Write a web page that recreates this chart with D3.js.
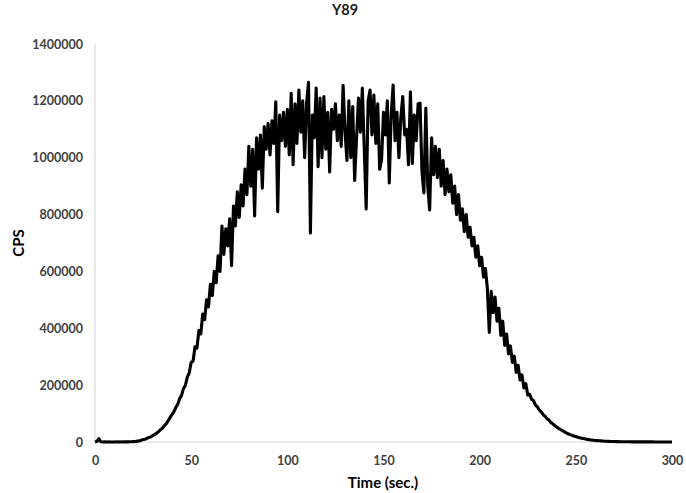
<!DOCTYPE html>
<html><head><meta charset="utf-8">
<script src="https://cdn.jsdelivr.net/npm/d3@7/dist/d3.min.js"></script>
<style>
body{margin:0;background:#fff;}
svg{display:block;}
text{font-family:Lato,"Open Sans",sans-serif;font-weight:bold;}
</style></head>
<body><svg id="chart" width="686" height="493"></svg>
<script>
const title = "Y89";
const xLabel = "Time (sec.)";
const yLabel = "CPS";
const xTicks = [0, 50, 100, 150, 200, 250, 300];
const yTicks = [0, 200000, 400000, 600000, 800000, 1000000, 1200000, 1400000];
// time in seconds, 0..300 step 1
const times = d3.range(0, 301);
const cps = [
0,2000,12000,1000,0,500,0,300,0,200,
0,300,0,400,200,500,300,600,800,700,
1200,1800,3000,3500,6000,9000,9500,13000,16000,18000,
23000,26000,31000,36000,43000,48000,57000,64000,74000,86000,
96000,106000,121000,133000,152000,164000,188000,200000,228000,243000,
280000,285000,335000,330000,392000,380000,450000,430000,500000,475000,
555000,515000,600000,560000,655000,600000,760000,660000,750000,690000,
785000,620000,830000,760000,880000,790000,905000,830000,960000,870000,
1040000,900000,1030000,795000,1070000,960000,1080000,893000,1110000,1030000,
1120000,1010000,1130000,1050000,1197000,810000,1150000,1060000,1160000,1040000,
1170000,1010000,1227000,975000,1190000,1050000,1238000,1090000,1200000,1000000,
1190000,1265000,735000,1150000,1070000,1245000,968000,1210000,1000000,1215000,
1030000,1160000,950000,1170000,1100000,1190000,1060000,1150000,1040000,1255000,
1090000,990000,1200000,1000000,1180000,920000,1070000,1210000,1090000,1245000,
1030000,820000,1200000,1238000,1080000,1220000,1050000,1190000,960000,992000,
1160000,1080000,1200000,911000,1150000,1256000,1060000,1160000,1000000,1140000,
1215000,1080000,1100000,975000,1232000,980000,1150000,1060000,1190000,1192000,
950000,876000,1175000,900000,816000,1070000,940000,1040000,930000,1030000,
900000,990000,870000,960000,880000,940000,840000,900000,800000,870000,
780000,820000,740000,800000,720000,755000,690000,720000,650000,690000,
620000,650000,580000,610000,540000,385000,530000,455000,510000,425000,
470000,375000,425000,340000,380000,310000,338000,280000,302000,245000,
270000,218000,236000,190000,205000,165000,168000,150000,146000,130000,
124000,112000,106000,96000,91000,82000,77000,69000,64000,58000,
53000,48000,44000,40000,36000,32000,29000,26000,23500,21000,
19000,17000,15000,13500,12000,10500,9300,8200,7200,6300,
5500,4900,4300,3800,3300,2900,2600,2300,2000,1800,
1600,1400,1200,1100,1000,900,800,700,650,600,
550,500,480,450,420,400,380,350,330,300,
280,260,240,220,200,190,180,160,140,120,
100
];

const svg = d3.select("#chart");
const margin = {left:95, right:14, top:44, bottom:51};
const W = 686, H = 493;
const x = d3.scaleLinear().domain([0,300]).range([margin.left, W-margin.right]);
const y = d3.scaleLinear().domain([0,1400000]).range([H-margin.bottom, margin.top]);

// axis lines
svg.append("line").attr("x1",x(0)).attr("x2",x(0)).attr("y1",y(0)).attr("y2",y(1400000))
  .attr("stroke","#d9d9d9").attr("stroke-width",1.2);
svg.append("line").attr("x1",x(0)).attr("x2",x(300)).attr("y1",y(0)).attr("y2",y(0))
  .attr("stroke","#d9d9d9").attr("stroke-width",1.2);

const yAxis = d3.axisLeft(y).tickValues(yTicks).tickSize(0).tickPadding(12).tickFormat(d=>String(d));
const gy = svg.append("g").attr("transform",`translate(${x(0)},0)`).call(yAxis);
gy.select(".domain").remove();
gy.selectAll("text").attr("font-size",12.5).attr("fill","#404040").attr("font-weight","bold");

const xAxis = d3.axisBottom(x).tickValues(xTicks).tickSize(0).tickPadding(14).tickFormat(d=>String(d));
const gx = svg.append("g").attr("transform",`translate(0,${y(0)})`).call(xAxis);
gx.select(".domain").remove();
gx.selectAll("text").attr("font-size",12.5).attr("fill","#404040").attr("font-weight","bold");

const line = d3.line().x((d,i)=>x(times[i])).y(d=>y(d));
svg.append("path").datum(cps).attr("d",line).attr("fill","none")
  .attr("stroke","#000").attr("stroke-width",3.1).attr("stroke-linejoin","round");

svg.append("text").attr("x",345).attr("y",15).attr("text-anchor","middle")
  .attr("font-size",14.5).attr("fill","#1a1a1a").text(title);
svg.append("text").attr("x",383).attr("y",488).attr("text-anchor","middle")
  .attr("font-size",15).attr("fill","#000").text(xLabel);
svg.append("text").attr("transform","translate(24,243) rotate(-90)").attr("text-anchor","middle")
  .attr("font-size",15).attr("fill","#000").text(yLabel);
</script></body></html>
